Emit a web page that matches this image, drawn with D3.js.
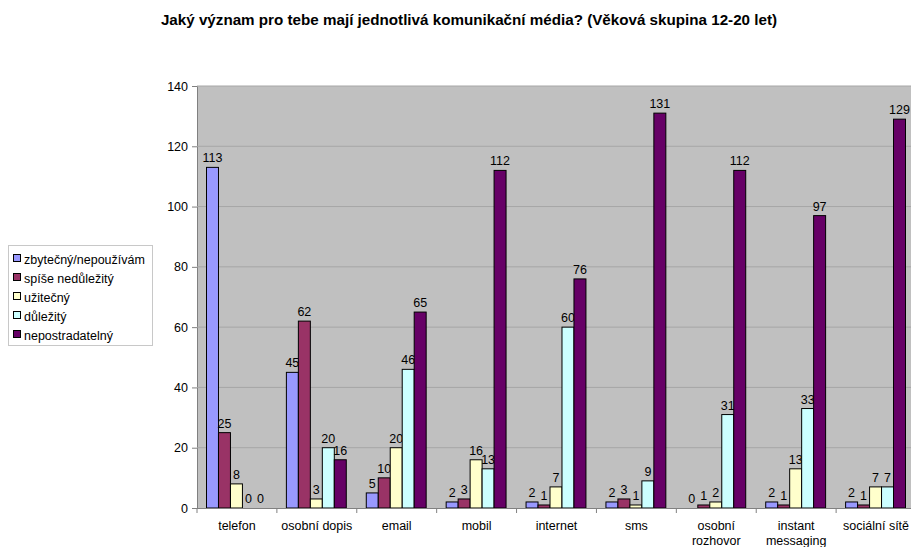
<!DOCTYPE html>
<html><head><meta charset="utf-8">
<script src="https://cdn.jsdelivr.net/npm/d3@7"></script>
<style>
html,body{margin:0;padding:0;background:#fff;}
svg{display:block;font-family:"Liberation Sans",Arial,sans-serif;}
</style></head>
<body>
<svg id="chart" width="911" height="547"></svg>
<script>
const title = "Jaký význam pro tebe mají jednotlivá komunikační média? (Věková skupina 12-20 let)";
const categories = [["telefon"],["osobní dopis"],["email"],["mobil"],["internet"],["sms"],["osobní","rozhovor"],["instant","messaging"],["sociální sítě"]];
const seriesNames = ["zbytečný/nepoužívám","spíše nedůležitý","užitečný","důležitý","nepostradatelný"];
const seriesColors = ["#9999FF","#993366","#FFFFCC","#CCFFFF","#660066"];
const s1 = [113,45,5,2,2,2,0,2,2];
const s2 = [25,62,10,3,1,3,1,1,1];
const s3 = [8,3,20,16,7,1,2,13,7];
const s4 = [0,20,46,13,60,9,31,33,7];
const s5 = [0,16,65,112,76,131,112,97,129];
const series = [s1,s2,s3,s4,s5];
const yTicks = [0,20,40,60,80,100,120,140];

const svg = d3.select("#chart");
const pL = 197, pR = 916, pT = 86, pB = 508;

svg.append("text").attr("x",469).attr("y",25).attr("text-anchor","middle")
  .attr("font-size",15.2).attr("font-weight","bold").attr("fill","#000").text(title);

const x0 = d3.scaleBand().domain(d3.range(categories.length)).range([pL,pR]).paddingInner(0).paddingOuter(0);
const x1 = d3.scaleBand().domain(d3.range(5)).range([9.5, x0.bandwidth()-10.5]).padding(0);
const y = d3.scaleLinear().domain([0,140]).range([pB, pT]);

svg.append("rect").attr("x",pL).attr("y",pT).attr("width",pR-pL).attr("height",pB-pT)
  .attr("fill","#c0c0c0");

const yAxis = d3.axisLeft(y).tickValues(yTicks).tickSize(5).tickPadding(4);
const gy = svg.append("g").attr("transform",`translate(${pL},0)`).call(yAxis);
gy.select(".domain").attr("stroke","#808080");
gy.selectAll(".tick line").attr("stroke","#808080");
gy.selectAll(".tick text").attr("font-size",12.5).attr("fill","#000").attr("font-family","Liberation Sans, Arial, sans-serif");

svg.append("g").selectAll("line").data(yTicks.filter(d=>d>0)).join("line")
  .attr("x1",pL).attr("x2",pR).attr("y1",d=>y(d)).attr("y2",d=>y(d))
  .attr("stroke","#a6a6a6").attr("stroke-width",1);

const groups = svg.append("g").selectAll("g").data(categories).join("g")
  .attr("transform",(d,i)=>`translate(${x0(i)},0)`);

groups.each(function(c,i){
  const g = d3.select(this);
  series.forEach((s,k)=>{
    const v = s[i];
    if (v>0) g.append("rect").attr("x",x1(k)).attr("width",x1.bandwidth()).attr("y",y(v)).attr("height",y(0)-y(v))
      .attr("fill",seriesColors[k]).attr("stroke","#000").attr("stroke-width",1);
    g.append("text").attr("x",x1(k)+x1.bandwidth()/2).attr("y",y(v)-5).attr("text-anchor","middle")
      .attr("font-size",12.5).attr("fill","#000").text(v);
  });
  c.forEach((line,j)=>{
    g.append("text").attr("x",x0.bandwidth()/2).attr("y",530+j*15).attr("text-anchor","middle")
      .attr("font-size",12.5).attr("fill","#000").text(line);
  });
});

svg.append("line").attr("x1",pL).attr("x2",pR).attr("y1",pB+0.5).attr("y2",pB+0.5).attr("stroke","#808080");
svg.append("g").selectAll("line").data(d3.range(categories.length+1)).join("line")
  .attr("x1",i=>pL+i*x0.bandwidth()).attr("x2",i=>pL+i*x0.bandwidth())
  .attr("y1",pB).attr("y2",pB+5).attr("stroke","#808080");

// legend
const lg = svg.append("g");
lg.append("rect").attr("x",8.5).attr("y",245.5).attr("width",144).attr("height",100)
  .attr("fill","#fff").attr("stroke","#c8c8c8");
seriesNames.forEach((n,k)=>{
  const yy = 260 + k*19;
  lg.append("rect").attr("x",13.5).attr("y",yy-5.5).attr("width",7).attr("height",7)
    .attr("fill",seriesColors[k]).attr("stroke","#000").attr("stroke-width",1);
  lg.append("text").attr("x",24).attr("y",yy+3.5).attr("font-size",12.5).attr("fill","#000").text(n);
});
</script>
</body></html>
